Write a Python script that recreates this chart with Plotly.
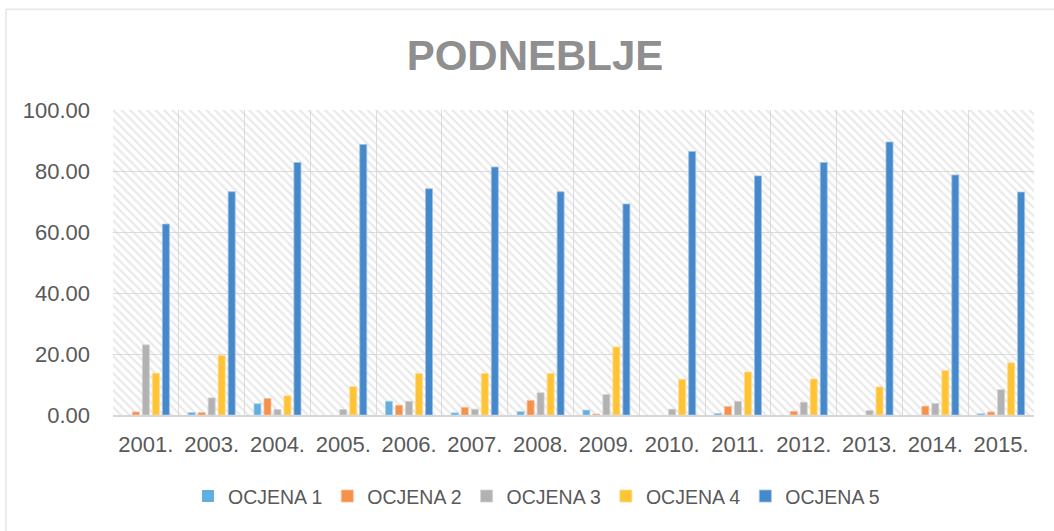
import plotly.graph_objects as go

years = ["2001.", "2003.", "2004.", "2005.", "2006.", "2007.", "2008.",
         "2009.", "2010.", "2011.", "2012.", "2013.", "2014.", "2015."]
ocjena1 = [0.0, 0.8, 3.7, 0.0, 4.5, 0.7, 1.1, 1.6, 0.0, 0.5, 0.0, 0.0, 0.0, 0.4]
ocjena2 = [1.0, 0.8, 5.4, 0.0, 3.2, 2.5, 4.8, 0.3, 0.0, 2.8, 1.2, 0.0, 2.9, 1.0]
ocjena3 = [23.0, 5.6, 1.8, 1.8, 4.5, 1.9, 7.3, 6.7, 1.9, 4.5, 4.2, 1.5, 3.8, 8.3]
ocjena4 = [13.7, 19.5, 6.3, 9.3, 13.6, 13.6, 13.6, 22.3, 11.7, 14.1, 11.8, 9.2, 14.6, 17.1]
ocjena5 = [62.6, 73.2, 82.8, 88.7, 74.2, 81.3, 73.2, 69.2, 86.4, 78.4, 82.8, 89.5, 78.7, 73.1]
series_names = ["OCJENA 1", "OCJENA 2", "OCJENA 3", "OCJENA 4", "OCJENA 5"]
series_vals = [ocjena1, ocjena2, ocjena3, ocjena4, ocjena5]
colors = ["#62AEE0", "#F5914B", "#B2B2B2", "#FFC435", "#4689CB"]
edge_colors = ["#A9D1EE", "#F9BE95", "#D3D3D3", "#FFDD8A", "#9DC0E6"]
y_ticks = [0, 20, 40, 60, 80, 100]
y_max = 100

FONT = "Liberation Sans"
W, H = 1054, 531
ML, MR, MT, MB = 113, 20, 110, 115.5
pw, ph = W - ML - MR, H - MT - MB

fig = go.Figure()

# hatched plot-area background
fig.add_trace(go.Bar(
    x=years, y=[y_max] * len(years), width=1.0,
    marker=dict(color="rgba(0,0,0,0)", line=dict(width=0),
                pattern=dict(shape="\\", fgcolor="#D4D4D4", size=6, solidity=0.38)),
    showlegend=False, hoverinfo="skip", xaxis="x", yaxis="y",
))

for name, vals, c, ec in zip(series_names, series_vals, colors, edge_colors):
    fig.add_trace(go.Bar(
        x=years, y=vals, name=name, xaxis="x2", yaxis="y",
        marker=dict(color=c, line=dict(color=ec, width=[0.8 if v > 0 else 0 for v in vals])),
    ))

def px_x(p):
    return (p - ML) / pw

def px_y(p):
    return (H - MB - p) / ph

fig.update_layout(
    width=W, height=H,
    margin=dict(l=ML, r=MR, t=MT, b=MB),
    paper_bgcolor="white", plot_bgcolor="white",
    barmode="group", bargap=0.24, bargroupgap=0.3,
    title=dict(text="<b>PODNEBLJE</b>", xref="container", x=535 / W, xanchor="center",
               y=1 - 55 / H, yanchor="middle",
               font=dict(family=FONT, size=42, color="#8F8F8F")),
    xaxis=dict(type="category", tickson="boundaries", showgrid=True,
               gridcolor="#DCDCDC", gridwidth=1.3, ticks="",
               showline=True, linecolor="#D6D6D6", linewidth=1.5,
               tickfont=dict(family=FONT, size=22, color="#595959"),
               ticklabelstandoff=9, range=[-0.5, len(years) - 0.5]),
    xaxis2=dict(type="category", overlaying="x", showgrid=False,
                showticklabels=False, ticks="", range=[-0.5, len(years) - 0.5]),
    yaxis=dict(range=[0, y_max], tickvals=y_ticks,
               ticktext=[f"{v:.2f}" for v in y_ticks],
               showgrid=True, gridcolor="#DCDCDC", gridwidth=1.3,
               zeroline=False, ticks="",
               tickfont=dict(family=FONT, size=22, color="#595959"),
               ticklabelstandoff=22),
    legend=dict(orientation="h", x=px_x(188), xanchor="left",
                y=px_y(497), yanchor="middle",
                font=dict(family=FONT, size=19.5, color="#595959"),
                itemwidth=30, traceorder="normal"),
    shapes=[dict(type="rect", xref="paper", yref="paper",
                 x0=px_x(6), x1=px_x(1064), y0=px_y(545), y1=px_y(9),
                 line=dict(color="#D9D9D9", width=1), layer="below")],
    showlegend=True,
)

fig.write_html("out.html", config={"displayModeBar": False},
               post_script="document.body.style.margin='0';")
